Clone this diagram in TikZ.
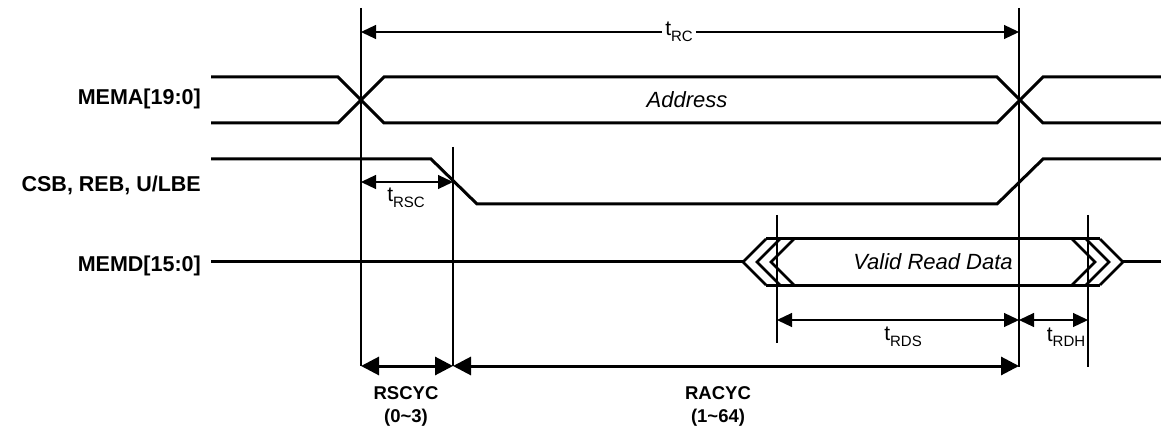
\documentclass[tikz,border=0pt]{standalone}
\usepackage{fontspec}
\setmainfont{Liberation Sans}
\usetikzlibrary{arrows.meta}
\newcommand\tlab[1]{\fontsize{21}{21}\selectfont t\raisebox{-5.5pt}{\fontsize{15}{15}\selectfont #1}}
\begin{document}
\begin{tikzpicture}[x=1pt,y=-1pt,
  sig/.style={line width=3pt, line join=miter},
  chev/.style={line width=2.6pt, line join=miter},
  guide/.style={line width=1.2pt},
  dimarrow/.style={line width=1.2pt, {Triangle[length=15pt,width=14pt]}-{Triangle[length=15pt,width=14pt]}},
  halfarrow/.style={line width=1.2pt, -{Triangle[length=15pt,width=14pt]}},
  cycarrow/.style={line width=3pt, {Triangle[length=18pt,width=18pt]}-{Triangle[length=18pt,width=18pt]}},
  siglabel/.style={anchor=base east, inner sep=0pt, font=\fontsize{21.5}{21.5}\selectfont\bfseries},
  buslabel/.style={inner sep=0pt, font=\fontsize{22}{22}\selectfont\itshape},
  cyclabel/.style={inner sep=0pt, align=center, font=\fontsize{18.5}{23}\selectfont\bfseries},
  tlabel/.style={inner sep=3pt, fill=white}
]
\useasboundingbox (0,0) rectangle (1161,430);

% signal names
\node[siglabel] (mema) at (201,105) {MEMA[19:0]};
\node[siglabel] (csb) at (201,192) {CSB, REB, U/LBE};
\node[siglabel] (memd) at (201,272) {MEMD[15:0]};

% vertical reference lines
\coordinate (v1t) at (361,8);   \coordinate (v1b) at (361,366);
\coordinate (v2t) at (453,147); \coordinate (v2b) at (453,366);
\coordinate (v3t) at (777,215); \coordinate (v3b) at (777,343);
\coordinate (v4t) at (1019,8);  \coordinate (v4b) at (1019,367);
\coordinate (v5t) at (1088,215); \coordinate (v5b) at (1088,367);
\foreach \v in {v1,v2,v3,v4,v5} \draw[guide] (\v t) -- (\v b);

% MEMA bus
\draw[sig] (211,77) -- (338,77) -- (384,123) -- (997,123) -- (1043,77) -- (1161,77);
\draw[sig] (211,123) -- (338,123) -- (384,77) -- (997,77) -- (1043,123) -- (1161,123);
\node[buslabel] (addr) at (687,100) {Address};

% CSB
\draw[sig] (211,159) -- (431,159) -- (477,204) -- (997,204) -- (1043,159) -- (1161,159);

% MEMD
\draw[sig] (211,262) -- (743,262);
\draw[sig] (1123,262) -- (1161,262);
\draw[sig] (766,239) -- (1100,239);
\draw[sig] (766,285) -- (1100,285);
\foreach \dx in {0,14,28} {
  \draw[chev] (766+\dx,239) -- (743+\dx,262) -- (766+\dx,285);
  \draw[chev] (1100-\dx,239) -- (1123-\dx,262) -- (1100-\dx,285);
}
\node[buslabel] (vrd) at (933,262) {Valid Read Data};

% tRC
\coordinate (rcL) at (361,32);
\coordinate (rcR) at (1019,32);
\node[tlabel] (trc) at (679,32) {\tlab{RC}};
\draw[halfarrow] (trc.west) -- (rcL);
\draw[halfarrow] (trc.east) -- (rcR);

% tRSC
\coordinate (rscL) at (361,182);
\coordinate (rscR) at (453,182);
\draw[dimarrow] (rscL) -- (rscR);
\node[inner sep=0pt] (trsc) at (406,198) {\tlab{RSC}};

% tRDS / tRDH
\coordinate (rdsL) at (777,320);
\coordinate (rdsR) at (1019,320);
\coordinate (rdhR) at (1088,320);
\draw[dimarrow] (rdsL) -- (rdsR);
\draw[dimarrow] (rdsR) -- (rdhR);
\node[inner sep=0pt] (trds) at (903,337) {\tlab{RDS}};
\node[inner sep=0pt] (trdh) at (1066,337) {\tlab{RDH}};

% cycle arrows
\coordinate (c1) at (361,366);
\coordinate (c2) at (453,366);
\coordinate (c3) at (1019,366);
\draw[cycarrow] (c1) -- (c2);
\draw[cycarrow] (c2) -- (c3);
\node[cyclabel] (rscyc) at (406,406) {RSCYC\\(0\textasciitilde3)};
\node[cyclabel] (racyc) at (718,406) {RACYC\\(1\textasciitilde64)};
\end{tikzpicture}
\end{document}
